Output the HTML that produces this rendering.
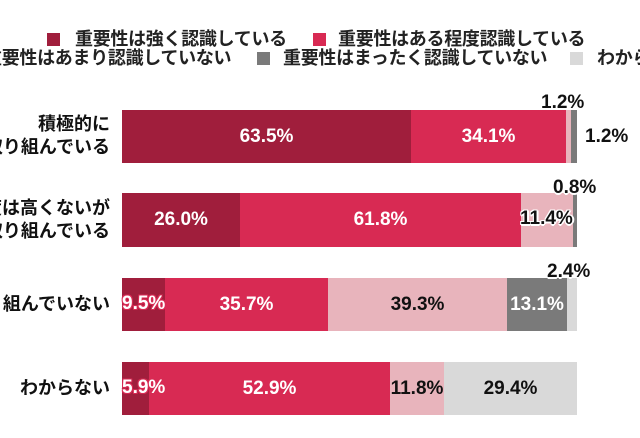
<!DOCTYPE html>
<html><head><meta charset="utf-8"><style>
body{margin:0;width:640px;height:438px;background:#fff;position:relative;overflow:hidden;font-family:"Liberation Sans","Noto Sans CJK JP",sans-serif;font-weight:bold}
.sq{position:absolute;width:13px;height:13px}
.lg{position:absolute;font-size:18px;line-height:20px;color:#222;white-space:nowrap;letter-spacing:-0.3px}
.lb{position:absolute;right:530px;font-size:18px;line-height:23px;text-align:right;color:#111;white-space:nowrap}
.seg{position:absolute;display:flex;align-items:center;justify-content:center;font-size:19px;color:#fff;white-space:nowrap}
.dk{color:#111}
.out{position:absolute;font-size:19px;color:#111;text-shadow:-1px -1px 0 #fff,1px -1px 0 #fff,-1px 1px 0 #fff,1px 1px 0 #fff,0 2px 0 #fff,2px 0 0 #fff;white-space:nowrap}
.wt{position:absolute;font-size:19px;color:#fff;white-space:nowrap;text-shadow:-1px -1px 0 #d82a53,1px -1px 0 #d82a53,-1px 1px 0 #d82a53,1px 1px 0 #d82a53}
</style></head><body>
<div class="sq" style="left:47px;top:33px;background:#a01e3c"></div>
<div class="lg" style="left:75px;top:29px">重要性は強く認識している</div>
<div class="sq" style="left:313px;top:33px;background:#d82a53"></div>
<div class="lg" style="left:338px;top:29px">重要性はある程度認識している</div>
<div class="lg" style="left:-16px;top:48px">重要性はあまり認識していない</div>
<div class="sq" style="left:257px;top:52px;background:#7a7a7a"></div>
<div class="lg" style="left:283px;top:48px">重要性はまったく認識していない</div>
<div class="sq" style="left:570px;top:52px;background:#d9d9d9"></div>
<div class="lg" style="left:597px;top:48px">わからない</div>

<div class="lb" style="top:113px">積極的に<br>取り組んでいる</div>
<div class="lb" style="top:197px">重要度は高くないが<br>取り組んでいる</div>
<div class="lb" style="top:293px">取り組んでいない</div>
<div class="lb" style="top:377px">わからない</div>

<div class="seg" style="left:122px;top:110px;width:289px;height:53px;background:#a01e3c">63.5%</div>
<div class="seg" style="left:411px;top:110px;width:155px;height:53px;background:#d82a53">34.1%</div>
<div class="seg" style="left:566px;top:110px;width:5px;height:53px;background:#e8b4bc"></div>
<div class="seg" style="left:571px;top:110px;width:6px;height:53px;background:#7a7a7a"></div>
<div class="out" style="left:541px;top:92px">1.2%</div>
<div class="out" style="left:585px;top:126px">1.2%</div>

<div class="seg" style="left:122px;top:193px;width:118px;height:54px;background:#a01e3c">26.0%</div>
<div class="seg" style="left:240px;top:193px;width:281px;height:54px;background:#d82a53">61.8%</div>
<div class="seg" style="left:521px;top:193px;width:52px;height:54px;background:#e8b4bc"></div>
<div class="seg" style="left:573px;top:193px;width:4px;height:54px;background:#7a7a7a"></div>
<div class="out" style="left:520px;top:208px">11.4%</div>
<div class="out" style="left:553px;top:177px">0.8%</div>

<div class="seg" style="left:122px;top:278px;width:43px;height:53px;background:#a01e3c"></div>
<div class="seg" style="left:165px;top:278px;width:163px;height:53px;background:#d82a53">35.7%</div>
<div class="seg dk" style="left:328px;top:278px;width:179px;height:53px;background:#e8b4bc">39.3%</div>
<div class="seg" style="left:507px;top:278px;width:60px;height:53px;background:#7a7a7a">13.1%</div>
<div class="seg" style="left:567px;top:278px;width:10px;height:53px;background:#d9d9d9"></div>
<div class="wt" style="left:122px;top:293px">9.5%</div>
<div class="out" style="left:547px;top:261px">2.4%</div>

<div class="seg" style="left:122px;top:362px;width:27px;height:53px;background:#a01e3c"></div>
<div class="seg" style="left:149px;top:362px;width:241px;height:53px;background:#d82a53">52.9%</div>
<div class="seg dk" style="left:390px;top:362px;width:54px;height:53px;background:#e8b4bc">11.8%</div>
<div class="seg dk" style="left:444px;top:362px;width:133px;height:53px;background:#d9d9d9">29.4%</div>
<div class="wt" style="left:122px;top:377px">5.9%</div>
</body></html>
